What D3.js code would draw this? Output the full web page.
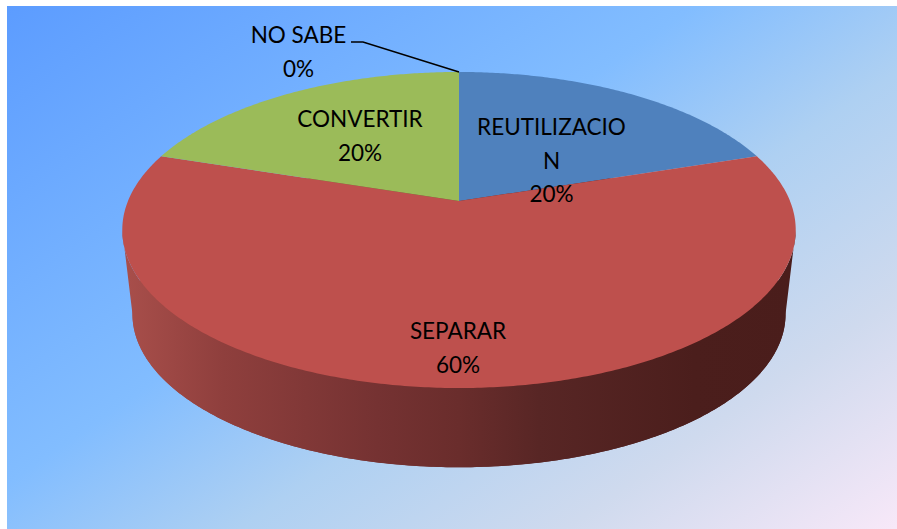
<!DOCTYPE html>
<html>
<head>
<meta charset="utf-8">
<style>
  html, body { margin: 0; padding: 0; background: #fff; }
  svg { display: block; }
  text { font-family: Lato, "Open Sans", sans-serif; font-size: 22.5px; fill: #000; text-anchor: middle; }
</style>
<script src="https://cdn.jsdelivr.net/npm/d3@7"></script>
</head>
<body>
<div id="chart"></div>
<script>
  var categories = ['REUTILIZACION', 'SEPARAR', 'CONVERTIR', 'NO SABE'];
  var values = [20, 60, 20, 0];
  var sliceColors = ['#4f81bd', '#be504d', '#9bbb59', '#8064a2'];
  var labelLines = [['REUTILIZACIO', 'N', '20%'], ['SEPARAR', '60%'], ['CONVERTIR', '20%'], ['NO SABE', '0%']];

  var width = 897, height = 529;
  var svg = d3.select('#chart').append('svg')
    .attr('width', width)
    .attr('height', height);
  var defs = svg.append('defs');

  // background, the iso lines lean about 35 degrees
  var bg = defs.append('linearGradient')
    .attr('id', 'bg')
    .attr('gradientUnits', 'userSpaceOnUse')
    .attr('x1', 7).attr('y1', 6)
    .attr('x2', 7 + 936 * 0.57).attr('y2', 6 + 936 * 0.82);
  [[0, '#5c9cff'], [0.42, '#82bdff'], [0.6, '#aed0f2'], [0.8, '#cfdaee'], [1, '#f7e8f8']].forEach(function(s){
    bg.append('stop').attr('offset', s[0]).attr('stop-color', s[1]);
  });
  svg.append('rect')
    .attr('x', 7).attr('y', 6)
    .attr('width', width - 7).attr('height', height - 6)
    .attr('fill', 'url(#bg)');

  // shading of the red wall, left to right
  var wall = defs.append('linearGradient')
    .attr('id', 'wall')
    .attr('gradientUnits', 'userSpaceOnUse')
    .attr('x1', 122).attr('y1', 0)
    .attr('x2', 795).attr('y2', 0);
  [[0, '#a94f4b'], [0.15, '#8f3f3d'], [0.38, '#753232'], [0.5, '#6a2d2c'], [0.62, '#582625'], [0.85, '#4b1e1c'], [1, '#4a1d1b']].forEach(function(s){
    wall.append('stop').attr('offset', s[0]).attr('stop-color', s[1]);
  });

  // flat circle seen in perspective, theta runs clockwise from the top
  var persp = -0.1835;
  var topDisc = { x: 459, y: 201, a: 331, b: 152.7 };
  var baseDisc = { x: 459, y: 286, a: 321, b: 148 };

  function project(theta, disc){
    var u = Math.sin(theta);
    var v = -Math.cos(theta);
    var w = 1 + persp * v;
    return [disc.x + disc.a * u / w, disc.y + disc.b * v / w];
  }

  function arcPoints(a0, a1, disc){
    var n = Math.max(2, Math.ceil((a1 - a0) / 0.01));
    return d3.range(n + 1).map(function(i){
      return project(a0 + (a1 - a0) * i / n, disc);
    });
  }

  var line = d3.line();
  var tau = Math.PI * 2;

  // wall: whole base plus the band between both front edges
  svg.append('path')
    .attr('d', line(arcPoints(0, tau, baseDisc)) + 'Z')
    .attr('fill', 'url(#wall)');
  // widest points of the projected circle
  var frontStart = Math.acos(persp), frontEnd = tau - frontStart;
  svg.append('path')
    .attr('d', line(arcPoints(frontStart, frontEnd, topDisc).concat(arcPoints(frontStart, frontEnd, baseDisc).reverse())) + 'Z')
    .attr('fill', 'url(#wall)');

  var pie = d3.pie().sort(null);
  var arcs = pie(values);

  svg.selectAll('path.slice')
    .data(arcs)
    .enter()
    .append('path')
    .attr('class', 'slice')
    .attr('d', function(d){
      var pts = [[topDisc.x, topDisc.y]].concat(arcPoints(d.startAngle, d.endAngle, topDisc));
      return line(pts) + 'Z';
    })
    .attr('fill', function(d, i){ return sliceColors[i]; });

  // leader of the empty slice
  var noSabe = arcs[categories.indexOf('NO SABE')];
  svg.append('path')
    .attr('d', line([[351, 42], [363, 42], project(noSabe.startAngle, topDisc)]))
    .attr('fill', 'none')
    .attr('stroke', '#000')
    .attr('stroke-width', 1.5);

  // label centres, first line baseline
  var labelPos = [[551.5, 135], [458, 339], [360, 127], [298.5, 43]];
  var lineGap = 33.5;

  var labels = svg.selectAll('text.label')
    .data(labelLines)
    .enter()
    .append('text')
    .attr('class', 'label');
  labels.selectAll('tspan')
    .data(function(d, i){
      return d.map(function(t, j){
        return { t: t, x: labelPos[i][0], y: labelPos[i][1] + j * lineGap };
      });
    })
    .enter()
    .append('tspan')
    .attr('x', function(d){ return d.x; })
    .attr('y', function(d){ return d.y; })
    .text(function(d){ return d.t; });
</script>
</body>
</html>
